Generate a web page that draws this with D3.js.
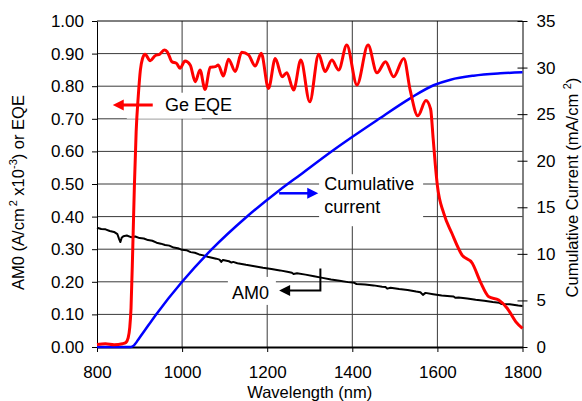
<!DOCTYPE html>
<html>
<head>
<meta charset="utf-8">
<script src="https://cdn.jsdelivr.net/npm/d3@7"></script>
<style>
  html, body { margin: 0; padding: 0; background: #fff; }
  svg { display: block; font-family: "Liberation Sans", Arial, sans-serif; }
</style>
</head>
<body>
<svg id="chart" width="582" height="401"></svg>
<script>
// Wavelength axis (nm) and tick values
const wavelengthTicks = [800, 1000, 1200, 1400, 1600, 1800];
const leftTicks = [0, 0.1, 0.2, 0.3, 0.4, 0.5, 0.6, 0.7, 0.8, 0.9, 1.0];
const rightTicks = [0, 5, 10, 15, 20, 25, 30, 35];

// Ge external quantum efficiency
const eqeWavelength = [800, 820, 840, 860, 868, 873, 877, 880, 884, 888, 892, 897, 902, 907, 913,
  925, 936, 948, 958, 965, 976, 987, 995, 1007, 1019, 1031, 1042, 1054, 1066, 1078, 1085, 1097,
  1109, 1125, 1140, 1156, 1172, 1186, 1203, 1219, 1235, 1246, 1262, 1279, 1300, 1321, 1336, 1352,
  1368, 1387, 1411, 1437, 1458, 1478, 1497, 1521, 1536, 1554, 1573, 1584, 1590, 1595, 1600, 1615,
  1634, 1658, 1682, 1701, 1721, 1744, 1764, 1784, 1800];
const eqeValue = [0.008, 0.010, 0.007, 0.010, 0.014, 0.027, 0.060, 0.120, 0.300, 0.500, 0.660, 0.770, 0.850, 0.885, 0.898,
  0.878, 0.893, 0.899, 0.911, 0.906, 0.875, 0.870, 0.855, 0.877, 0.865, 0.814, 0.850, 0.790, 0.858, 0.860, 0.865, 0.831,
  0.883, 0.845, 0.904, 0.896, 0.862, 0.901, 0.793, 0.885, 0.829, 0.841, 0.788, 0.880, 0.752, 0.898, 0.845, 0.880,
  0.850, 0.926, 0.804, 0.926, 0.841, 0.875, 0.829, 0.885, 0.788, 0.709, 0.756, 0.730, 0.640, 0.560, 0.495, 0.410,
  0.349, 0.282, 0.257, 0.200, 0.154, 0.144, 0.119, 0.078, 0.057];

// AM0 spectral irradiance (A/cm2 x10^-3 per nm)
const am0Wavelength = [800, 810, 820, 830, 840, 848, 852, 855, 858, 862, 870, 880, 890, 900, 910, 920, 930,
  940, 950, 960, 970, 980, 990, 1000, 1010, 1020, 1030, 1040, 1050, 1060, 1070, 1080, 1088, 1092, 1096,
  1110, 1116, 1120, 1130, 1150, 1170, 1190, 1210, 1230, 1250, 1258, 1262, 1270, 1290, 1310, 1330, 1350, 1370, 1390, 1405,
  1410, 1430, 1450, 1470, 1478, 1482, 1490, 1510, 1530, 1550, 1560, 1566, 1572, 1590, 1610, 1630, 1638, 1642, 1650, 1670, 1690,
  1710, 1730, 1745, 1750, 1770, 1790, 1800];
const am0Value = [0.366, 0.362, 0.361, 0.356, 0.353, 0.346, 0.331, 0.322, 0.335, 0.340, 0.342, 0.337, 0.339, 0.334, 0.333, 0.328, 0.326,
  0.320, 0.317, 0.313, 0.311, 0.305, 0.303, 0.298, 0.297, 0.291, 0.289, 0.284, 0.281, 0.277, 0.274, 0.271, 0.268, 0.261, 0.267,
  0.263, 0.259, 0.261, 0.257, 0.252, 0.248, 0.243, 0.239, 0.235, 0.230, 0.228, 0.224, 0.226, 0.222, 0.217, 0.212, 0.207, 0.203, 0.199, 0.197,
  0.193, 0.192, 0.189, 0.185, 0.184, 0.179, 0.182, 0.178, 0.175, 0.170, 0.168, 0.160, 0.166, 0.162, 0.158, 0.156, 0.155, 0.151, 0.152, 0.149, 0.145,
  0.142, 0.138, 0.136, 0.132, 0.131, 0.127, 0.126];

// Cumulative short-circuit current (mA/cm2)
const currentWavelength = [800, 880, 885, 900, 939, 1000, 1070, 1150, 1228, 1278, 1356, 1403, 1458, 1536, 1591, 1631, 1685, 1748, 1800];
const currentValue = [0, 0, 0.1, 1.0, 3.5, 7.0, 10.5, 13.9, 16.8, 18.5, 21.15, 22.65, 24.35, 26.7, 28.1, 28.7, 29.13, 29.38, 29.5];

const svg = d3.select("#chart");
const plotLeft = 97, plotRight = 522.5, plotTop = 21, plotBottom = 347;

const x = d3.scaleLinear().domain([800, 1800]).range([plotLeft, plotRight]);
const yL = d3.scaleLinear().domain([0, 1]).range([plotBottom, plotTop]);
const yR = d3.scaleLinear().domain([0, 35]).range([plotBottom, plotTop]);

// gridlines
const grid = svg.append("g").attr("stroke", "#3a3a3a").attr("stroke-width", 1);
grid.selectAll("line.h").data(leftTicks.slice(1, -1)).join("line")
  .attr("x1", plotLeft).attr("x2", plotRight)
  .attr("y1", d => yL(d)).attr("y2", d => yL(d));
grid.selectAll("line.v").data(wavelengthTicks.slice(1, -1)).join("line")
  .attr("x1", d => x(d)).attr("x2", d => x(d))
  .attr("y1", plotTop).attr("y2", plotBottom);

// top frame
svg.append("line").attr("x1", plotLeft).attr("x2", plotRight).attr("y1", plotTop).attr("y2", plotTop)
  .attr("stroke", "#000").attr("stroke-width", 1);

// white label backgrounds
const boxes = [
  [x(870), yL(0.78), 75, 26],
  [x(1322), yL(0.53), 104, 52],
  [x(1117) - 4, yL(0.215), 48, 28]
];
svg.append("g").selectAll("rect").data(boxes).join("rect")
  .attr("x", d => d[0]).attr("y", d => d[1]).attr("width", d => d[2]).attr("height", d => d[3])
  .attr("fill", "#fff");

// axes
const fontTick = "17px";
const axL = svg.append("g").attr("transform", `translate(${plotLeft},0)`)
  .call(d3.axisLeft(yL).tickValues(leftTicks).tickFormat(d3.format(".2f")).tickSize(5).tickPadding(8).tickSizeOuter(0));
const axR = svg.append("g").attr("transform", `translate(${plotRight},0)`)
  .call(d3.axisRight(yR).tickValues(rightTicks).tickFormat(d3.format("d")).tickSize(5).tickPadding(9).tickSizeOuter(0));
axR.selectAll(".tick line").attr("x1", -5).attr("x2", 5);
const axB = svg.append("g").attr("transform", `translate(0,${plotBottom})`)
  .call(d3.axisBottom(x).tickValues(wavelengthTicks).tickFormat(d3.format("d")).tickSize(5).tickPadding(14).tickSizeOuter(0));
axB.select(".domain").attr("stroke-width", 2);
[axL, axR, axB].forEach(a => {
  a.attr("font-family", null).attr("font-size", null);
  a.selectAll("text").style("font-size", fontTick).attr("fill", "#000");
  a.selectAll("line").attr("stroke", "#000");
  a.select(".domain").attr("stroke", "#000");
});

// series
const lineOf = (xs, ys, yScale, curve) => d3.line()
  .x((d, i) => x(xs[i])).y((d, i) => yScale(ys[i])).curve(curve)(xs);

svg.append("path").attr("d", lineOf(am0Wavelength, am0Value, yL, d3.curveLinear))
  .attr("fill", "none").attr("stroke", "#000").attr("stroke-width", 2).attr("stroke-linejoin", "round");
svg.append("path").attr("d", lineOf(currentWavelength, currentValue, yR, d3.curveMonotoneX))
  .attr("fill", "none").attr("stroke", "#0000ff").attr("stroke-width", 2.5);
svg.append("path").attr("d", lineOf(eqeWavelength, eqeValue, yL, d3.curveMonotoneX))
  .attr("fill", "none").attr("stroke", "#ff0000").attr("stroke-width", 3).attr("stroke-linejoin", "round");

// annotations
const ann = svg.append("g").style("font-size", "18px");
function arrowHead(g, tipX, tipY, dir, color) {
  const len = 11, half = 5.5;
  g.append("path")
    .attr("d", `M${tipX},${tipY} L${tipX - dir * len},${tipY - half} L${tipX - dir * len},${tipY + half} Z`)
    .attr("fill", color);
}
// Ge EQE
const eqeY = yL(0.742);
ann.append("line").attr("x1", x(931)).attr("x2", x(837) + 8).attr("y1", eqeY).attr("y2", eqeY)
  .attr("stroke", "#ff0000").attr("stroke-width", 3);
arrowHead(ann, x(837), eqeY, -1, "#ff0000");
ann.append("text").attr("x", x(960)).attr("y", yL(0.724)).text("Ge EQE");

// Cumulative current
const curY = yL(0.4715);
ann.append("line").attr("x1", x(1228)).attr("x2", x(1320) - 8).attr("y1", curY).attr("y2", curY)
  .attr("stroke", "#0000ff").attr("stroke-width", 2.5);
arrowHead(ann, x(1320), curY, 1, "#0000ff");
ann.append("text").attr("x", x(1334)).attr("y", yL(0.4816)).text("Cumulative");
ann.append("text").attr("x", x(1334)).attr("y", yL(0.412)).text("current");

// AM0
const amY = yL(0.173);
ann.append("path")
  .attr("d", `M${x(1325)},${yL(0.241)} L${x(1325)},${amY} L${x(1228) + 8},${amY}`)
  .attr("fill", "none").attr("stroke", "#000").attr("stroke-width", 2);
arrowHead(ann, x(1228), amY, -1, "#000");
ann.append("text").attr("x", x(1117)).attr("y", yL(0.146)).text("AM0");

// axis titles
const titleSize = "16.5px";
svg.append("text").attr("x", (plotLeft + plotRight) / 2).attr("y", 398).attr("text-anchor", "middle")
  .style("font-size", titleSize).text("Wavelength (nm)");

const lt = svg.append("text").attr("transform", "translate(23.5,192.5) rotate(-90)")
  .attr("text-anchor", "middle").style("font-size", titleSize);
lt.append("tspan").text("AM0 (A/cm");
lt.append("tspan").attr("dy", -7).attr("dx", 2).style("font-size", "11px").text("2");
lt.append("tspan").attr("dy", 7).text(" x10");
lt.append("tspan").attr("dy", -7).style("font-size", "11px").text("-3");
lt.append("tspan").attr("dy", 7).text(") or EQE");

const rt = svg.append("text").attr("transform", "translate(578,187.5) rotate(-90)")
  .attr("text-anchor", "middle").style("font-size", titleSize);
rt.append("tspan").text("Cumulative Current (mA/cm ");
rt.append("tspan").attr("dy", -7).style("font-size", "11px").text("2");
rt.append("tspan").attr("dy", 7).text(")");
</script>
</body>
</html>
